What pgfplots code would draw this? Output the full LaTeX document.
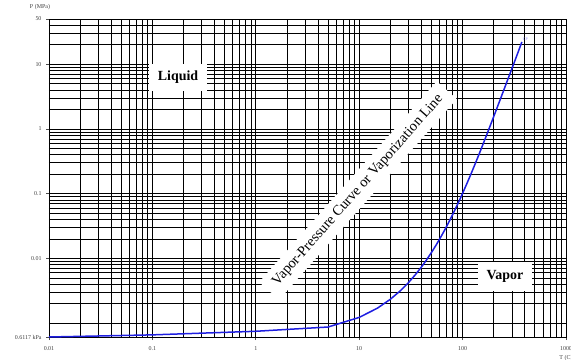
\documentclass[border=0pt]{standalone}
\usepackage{fontspec}
\setmainfont{Liberation Serif}
\usepackage{pgfplots}
\pgfplotsset{compat=1.18}
\definecolor{curveblue}{RGB}{30,30,225}
\begin{document}
\begin{tikzpicture}
\path[use as bounding box] (-49bp,-23bp) rectangle (522bp,337bp);
\clip (-49bp,-23bp) rectangle (522bp,337bp);
\begin{axis}[
  at={(0,0)}, anchor=south west,
  scale only axis, width=517bp, height=318bp,
  xmode=log, ymode=log,
  xmin=0.01, xmax=1000, ymin=0.0006117, ymax=50,
  xtick={0.01,0.1,1,10,100,1000},
  xticklabels={0.01,0.1,1,10,100,1000},
  ytick={0.0006117,0.01,0.1,1,10,50},
  yticklabels={0.6117 kPa,0.01,0.1,1,10,50},
  minor xtick={0.02,0.03,0.04,0.05,0.06,0.07,0.08,0.09,
               0.2,0.3,0.4,0.5,0.6,0.7,0.8,0.9,
               2,3,4,5,6,7,8,9,
               20,30,40,50,60,70,80,90,
               200,300,400,500,600,700,800,900},
  minor ytick={0.001,0.002,0.003,0.004,0.005,0.006,0.007,0.008,0.009,
               0.02,0.03,0.04,0.05,0.06,0.07,0.08,0.09,
               0.2,0.3,0.4,0.5,0.6,0.7,0.8,0.9,
               2,3,4,5,6,7,8,9,
               20,30,40},
  grid=both,
  major grid style={black, line width=0.8bp},
  minor grid style={black, line width=0.8bp},
  axis line style={black, line width=0.8bp},
  tick align=outside,
  xtick pos=bottom, ytick pos=left,
  major tick length=3bp, minor tick length=0pt,
  tick style={black!70, line width=0.6bp},
  ticklabel style={font=\fontsize{6}{7}\selectfont, text=black!75},
  xticklabel style={yshift=-3bp},
  yticklabel style={xshift=-1bp},
  xlabel={T (C)}, ylabel={P (MPa)},
  every axis x label/.style={at={(axis description cs:1,0)}, anchor=north,
    yshift=-15bp, font=\fontsize{6}{7}\selectfont, text=black!75},
  every axis y label/.style={at={(axis description cs:0,1)}, anchor=south,
    xshift=-9bp, yshift=6bp, font=\fontsize{6}{7}\selectfont, text=black!75},
]
% saturation pressure of water, T in deg C, P in MPa
\addplot[color=curveblue, line width=1.5bp] coordinates {
  (0.01,0.0006117) (0.1,0.00066) (1,0.00075) (5,0.0008725)
  (10,0.0012281) (15,0.0017057) (20,0.0023392) (25,0.0031698)
  (30,0.0042469) (35,0.0056291) (40,0.0073851) (45,0.0095953)
  (50,0.012352) (55,0.015763) (60,0.019947) (65,0.025043)
  (70,0.031202) (75,0.038597) (80,0.047416) (85,0.057868)
  (90,0.070183) (95,0.084609) (100,0.10142) (110,0.14338)
  (120,0.19867) (130,0.27028) (140,0.36153) (150,0.47616)
  (160,0.61823) (170,0.79218) (180,1.0028) (190,1.2552)
  (200,1.5549) (210,1.9077) (220,2.3196) (230,2.7971)
  (240,3.3469) (250,3.9762) (260,4.6923) (270,5.5030)
  (280,6.4166) (290,7.4418) (300,8.5879) (310,9.8651)
  (320,11.284) (330,12.858) (340,14.601) (350,16.529)
  (360,18.666) (370,21.044) (373.95,22.064)
} node[pos=1, anchor=south west, inner sep=0.3bp,
       font=\fontsize{4}{4}\selectfont, text=blue!45] {CP};

\node[fill=white, inner xsep=9bp, inner ysep=7bp,
      font=\fontsize{14}{16}\selectfont\bfseries]
  at (axis cs:0.177,6.25) {Liquid};
\node[fill=white, inner xsep=9bp, inner ysep=8bp,
      font=\fontsize{14}{16}\selectfont\bfseries]
  at (axis cs:257,0.00527) {Vapor};
\node[fill=white, rotate=48.5, inner xsep=9bp, inner ysep=7bp,
      font=\fontsize{14.5}{16}\selectfont]
  at (axis cs:9.73,0.112) {Vapor-Pressure Curve or Vaporization Line};
\end{axis}
\end{tikzpicture}
\end{document}
